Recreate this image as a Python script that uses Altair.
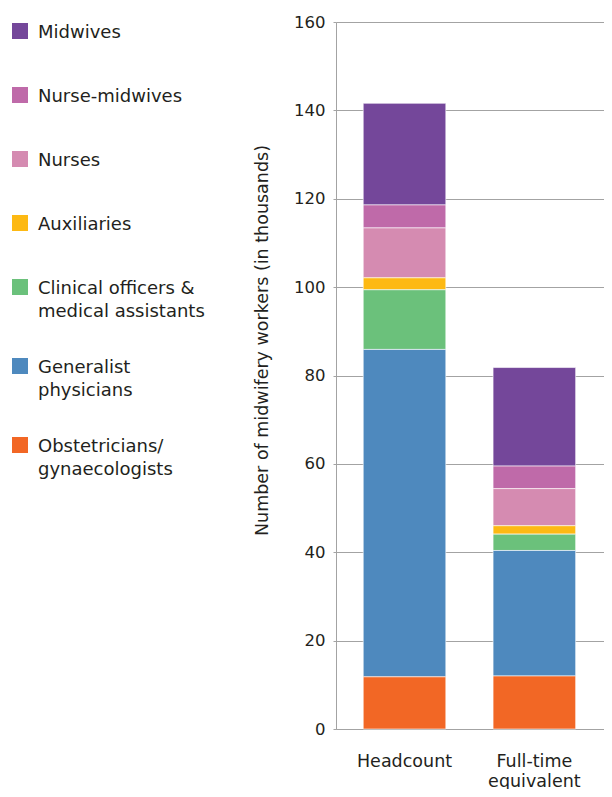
import altair as alt
import pandas as pd

# ---------------- data ----------------
categories = [
    "Midwives",
    "Nurse-midwives",
    "Nurses",
    "Auxiliaries",
    "Clinical officers & medical assistants",
    "Generalist physicians",
    "Obstetricians/gynaecologists",
]
legend_lines = [
    ["Midwives"],
    ["Nurse-midwives"],
    ["Nurses"],
    ["Auxiliaries"],
    ["Clinical officers &", "medical assistants"],
    ["Generalist", "physicians"],
    ["Obstetricians/", "gynaecologists"],
]
measures = ["Headcount", "Full-time equivalent"]
headcount = [23.0, 5.2, 11.3, 2.7, 13.5, 74.1, 11.8]
full_time_equivalent = [22.3, 5.1, 8.4, 1.9, 3.7, 28.4, 12.0]
colors = ["#74479A", "#BF6AA9", "#D58BB1", "#FDB913", "#6BC17B", "#4E89BE", "#F26725"]
y_ticks = [0, 20, 40, 60, 80, 100, 120, 140, 160]
y_title = "Number of midwifery workers (in thousands)"

# ---------------- style ----------------
FONT = "DejaVu Sans"
TEXT = "#231F20"
GRID = "#A3A3A3"
H = 707          # plot height
W = 268          # bar plot width
PAD_LEFT = 328   # room for legend and y axis
PAD_TOP = 14
PAD_BOTTOM = 60
LEG_STEP = 64
LEG_EXTRA = 15
LEG_LINE = 23
LEG_TOP = 9
TEXT_SHIFT = 2
SQ_X = -316
TX_X = -298

# ---------------- tables ----------------
rows = []
n = len(categories)
for m, vals in zip(measures, [headcount, full_time_equivalent]):
    for i, (c, v) in enumerate(zip(categories, vals)):
        rows.append({"measure": m, "category": c, "value": v, "stack_order": n - 1 - i})
bar_df = pd.DataFrame(rows)

sq_rows, tx_rows = [], []
extra = 0
for i, (c, lines) in enumerate(zip(categories, legend_lines)):
    py = LEG_TOP + LEG_STEP * i + LEG_EXTRA * extra
    sq_rows.append({"category": c, "py": py})
    for j, ln in enumerate(lines):
        tx_rows.append({"line": ln, "py": py + TEXT_SHIFT + j * LEG_LINE})
    extra += len(lines) - 1
sq_df = pd.DataFrame(sq_rows)
tx_df = pd.DataFrame(tx_rows)

color_scale = alt.Scale(domain=categories, range=colors)
yleg = alt.Scale(domain=[0, H], reverse=True, nice=False, zero=False)

bars = alt.Chart(bar_df).mark_bar(stroke="white", strokeWidth=0.6).encode(
    x=alt.X(
        "measure:N",
        sort=measures,
        scale=alt.Scale(paddingInner=0.364, paddingOuter=0.214, align=0.49),
        axis=alt.Axis(
            title=None,
            labelAngle=0,
            ticks=False,
            labelPadding=23,
            labelBaseline="top",
            labelLineHeight=20,
            labelFont=FONT,
            labelFontSize=17.5,
            labelColor=TEXT,
            domainColor=GRID,
            labelExpr="datum.label == 'Full-time equivalent' ? ['Full-time', 'equivalent'] : datum.label",
        ),
    ),
    y=alt.Y(
        "value:Q",
        stack="zero",
        scale=alt.Scale(domain=[0, 160], nice=False),
        axis=alt.Axis(
            values=y_ticks,
            title=y_title,
            grid=True,
            gridColor=GRID,
            tickSize=3,
            tickColor=GRID,
            domainColor=GRID,
            labelPadding=8,
            labelFont=FONT,
            labelFontSize=16.5,
            labelColor=TEXT,
            titleFont=FONT,
            titleFontSize=17.5,
            titleFontWeight="normal",
            titleColor=TEXT,
            titleX=-69,
            titleY=318,
            titleAngle=270,
            titleAlign="center",
            titleBaseline="alphabetic",
        ),
    ),
    color=alt.Color("category:N", scale=color_scale, legend=None),
    order=alt.Order("stack_order:Q", sort="ascending"),
)

leg_sq = alt.Chart(sq_df).mark_square(size=256, filled=True, opacity=1).encode(
    x=alt.value(SQ_X),
    y=alt.Y("py:Q", scale=yleg, axis=None),
    color=alt.Color("category:N", scale=color_scale, legend=None),
)
leg_tx = alt.Chart(tx_df).mark_text(
    align="left", baseline="middle", font=FONT, fontSize=18, color=TEXT
).encode(
    x=alt.value(TX_X),
    y=alt.Y("py:Q", scale=yleg, axis=None),
    text="line:N",
)

chart = alt.layer(bars, leg_sq, leg_tx).resolve_scale(y="independent").properties(
    width=W,
    height=H,
    autosize=alt.AutoSizeParams(type="none"),
    padding={"left": PAD_LEFT, "top": PAD_TOP, "right": 0, "bottom": PAD_BOTTOM},
).configure_view(strokeWidth=0)

chart.save("out.html", embed_options={"renderer": "svg", "actions": False})
